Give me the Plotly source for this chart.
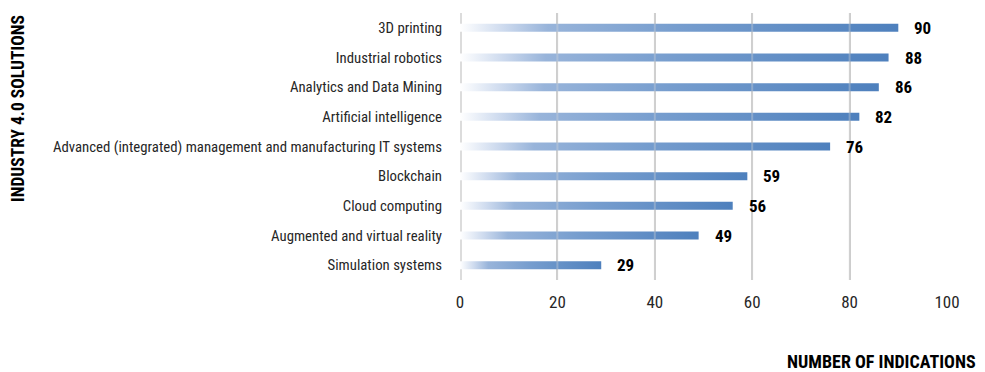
import plotly.graph_objects as go

categories = ["3D printing", "Industrial robotics", "Analytics and Data Mining",
              "Artificial intelligence",
              "Advanced (integrated) management and manufacturing IT systems",
              "Blockchain", "Cloud computing", "Augmented and virtual reality",
              "Simulation systems"]
values = [90, 88, 86, 82, 76, 59, 56, 49, 29]
x_ticks = [0, 20, 40, 60, 80, 100]

FONT = "Roboto Condensed, Liberation Sans Narrow, Arial Narrow, DejaVu Sans Condensed, sans-serif"
half = 0.135
n = len(categories)
positions = [n - 1 - i for i in range(n)]

fig = go.Figure()
for cat, v, p in zip(categories, values, positions):
    fig.add_trace(go.Scatter(
        x=[0, v, v, 0, 0],
        y=[p - half, p - half, p + half, p + half, p - half],
        mode="lines", fill="toself", line=dict(width=0),
        fillgradient=dict(type="horizontal",
                          colorscale=[[0, "rgba(255,255,255,1)"],
                                      [0.1, "#cddaee"],
                                      [0.2, "#98b4da"],
                                      [0.5, "#769dce"],
                                      [1, "#4e80bd"]]),
        hoverinfo="skip", showlegend=False, name=cat))
    fig.add_annotation(x=v, y=p, text=f"<b>{v}</b>", showarrow=False,
                       xanchor="left", xshift=14,
                       font=dict(family=FONT, size=17, color="#000000"))

fig.add_annotation(xref="paper", yref="paper", x=-0.9076, y=0.644,
                   text="<b>INDUSTRY 4.0 SOLUTIONS</b>", textangle=-90,
                   showarrow=False, xanchor="center", yanchor="middle",
                   font=dict(family=FONT, size=17.5, color="#000000"))
fig.add_annotation(xref="paper", yref="paper", x=1.0637, y=-0.307,
                   text="<b>NUMBER OF INDICATIONS</b>",
                   showarrow=False, xanchor="right", yanchor="middle",
                   font=dict(family=FONT, size=18, color="#000000"))

fig.update_xaxes(range=[0, 100], tickvals=x_ticks, showgrid=True,
                 gridcolor="#cccccc", gridwidth=2, zeroline=False,
                 showline=False, ticklabelstandoff=10,
                 tickfont=dict(family=FONT, size=17, color="#262626"),
                 fixedrange=True)
fig.update_yaxes(range=[-0.5, n - 0.5], tickvals=positions, ticktext=categories,
                 showgrid=False, zeroline=False, showline=False,
                 ticklabelstandoff=17,
                 tickfont=dict(family=FONT, size=14.8, color="#262626"),
                 fixedrange=True)
fig.add_shape(type="line", xref="x", yref="paper", x0=0, x1=0, y0=0, y1=1,
              line=dict(color="#dcdcdc", width=4), layer="below")
for t in x_ticks[1:-1]:
    fig.add_shape(type="line", xref="x", yref="paper", x0=t, x1=t, y0=0, y1=1,
                  line=dict(color="rgba(215,215,215,0.35)", width=2), layer="above")

fig.update_layout(width=985, height=372,
                  margin=dict(l=460, r=38, t=13, b=92),
                  plot_bgcolor="white", paper_bgcolor="white")
fig.write_html("out.html")
